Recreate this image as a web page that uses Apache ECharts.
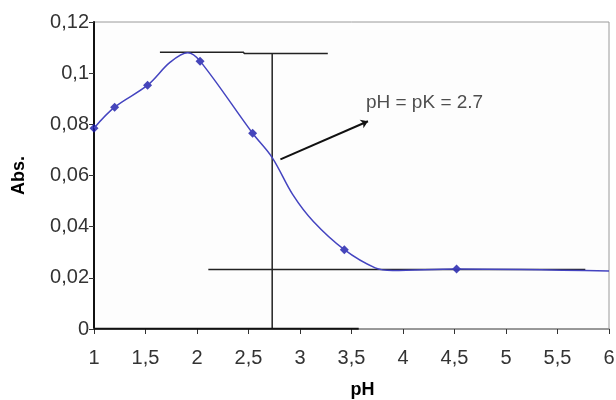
<!DOCTYPE html>
<html>
<head>
<meta charset="utf-8">
<script src="https://cdn.jsdelivr.net/npm/echarts@6/dist/echarts.min.js"></script>
<style>
  html, body { margin: 0; padding: 0; background: #fff; }
  #chart { width: 616px; height: 400px; }
</style>
</head>
<body>
<div id="chart"></div>
<script>
// traced absorbance curve (pH, Abs.)
const curvePH  = [1.0, 1.2, 1.52, 1.74, 1.91, 2.03, 2.54, 2.73, 2.93, 3.13, 3.43, 3.73, 3.9, 4.52, 6.0];
const curveAbs = [0.0785, 0.0867, 0.0953, 0.1043, 0.108, 0.1047, 0.0765, 0.067, 0.0525, 0.042, 0.031, 0.0239, 0.0229, 0.0235, 0.0227];

// measured points
const pointPH  = [1.0, 1.2, 1.52, 2.03, 2.54, 3.43, 4.52];
const pointAbs = [0.0785, 0.0867, 0.0953, 0.1047, 0.0765, 0.031, 0.0235];

// axis ticks
const xTicks = { min: 1, max: 6, step: 0.5 };
const yTicks = { min: 0, max: 0.12, step: 0.02 };

// construction lines for pK
const maxLine   = [[1.64, 0.1082], [2.45, 0.1082], [2.46, 0.1077], [3.27, 0.1077]];
const pkLine    = [[2.73, 0.1077], [2.73, 0]];
const minLine   = [[2.11, 0.0233], [5.77, 0.0233]];
const arrowLine = [[2.81, 0.0663], [3.66, 0.0812]];
const baseLine  = [[1.0, 0], [3.57, 0]];
const labelPos  = [3.64, 0.0885];
const labelText = 'pH = pK = 2.7';

const comma = v => String(+v.toFixed(2)).replace('.', ',');

const chart = echarts.init(document.getElementById('chart'));

chart.setOption({
  animation: false,
  textStyle: { fontFamily: 'Liberation Sans, Arial, sans-serif' },
  grid: {
    left: 94, right: 7, top: 22, bottom: 71,
    outerBoundsMode: 'none',
    containLabel: false,
    show: true, borderColor: '#9a9a9a', borderWidth: 1,
    backgroundColor: '#fdfdfd'
  },
  xAxis: {
    type: 'value',
    min: xTicks.min, max: xTicks.max, interval: xTicks.step,
    name: 'pH',
    nameLocation: 'middle',
    nameGap: 52,
    nameTextStyle: { fontSize: 18, fontWeight: 'bold', color: '#000', padding: [0, 0, 0, 22] },
    axisLine: { lineStyle: { color: '#888', width: 1.5 } },
    axisTick: { show: true, length: 5, lineStyle: { color: '#333' } },
    axisLabel: { fontSize: 20, color: '#333', margin: 19, formatter: comma },
    splitLine: { show: false }
  },
  yAxis: {
    type: 'value',
    min: yTicks.min, max: yTicks.max, interval: yTicks.step,
    name: 'Abs.',
    nameLocation: 'middle',
    nameGap: 66,
    nameRotate: 90,
    nameTextStyle: { fontSize: 18, fontWeight: 'bold', color: '#000' },
    axisLine: { show: true, lineStyle: { color: '#111', width: 2 } },
    axisTick: { show: true, length: 5, lineStyle: { color: '#333' } },
    axisLabel: { fontSize: 20, color: '#333', margin: 5, formatter: comma },
    splitLine: { show: false }
  },
  series: [
    {
      type: 'lines',
      coordinateSystem: 'cartesian2d',
      polyline: true,
      silent: true,
      lineStyle: { color: '#222', width: 1.5, opacity: 1 },
      data: [
        { coords: maxLine },
        { coords: pkLine },
        { coords: minLine },
        { coords: baseLine, lineStyle: { width: 2.5, color: '#111' } }
      ]
    },
    {
      type: 'lines',
      coordinateSystem: 'cartesian2d',
      silent: true,
      symbol: ['none', 'arrow'],
      symbolSize: 7,
      lineStyle: { color: '#111', width: 2, opacity: 1 },
      data: [{ coords: arrowLine }]
    },
    {
      type: 'line',
      smooth: 0.35,
      showSymbol: false,
      lineStyle: { color: '#4444c0', width: 1.5 },
      data: curvePH.map((x, i) => [x, curveAbs[i]])
    },
    {
      type: 'scatter',
      symbol: 'diamond',
      symbolSize: 9,
      itemStyle: { color: '#1818a8' },
      data: pointPH.map((x, i) => [x, pointAbs[i]])
    },
    {
      type: 'scatter',
      symbolSize: 0,
      silent: true,
      label: {
        show: true,
        position: 'right',
        distance: 0,
        formatter: labelText,
        fontSize: 19,
        color: '#222'
      },
      data: [labelPos]
    }
  ]
});
</script>
</body>
</html>
